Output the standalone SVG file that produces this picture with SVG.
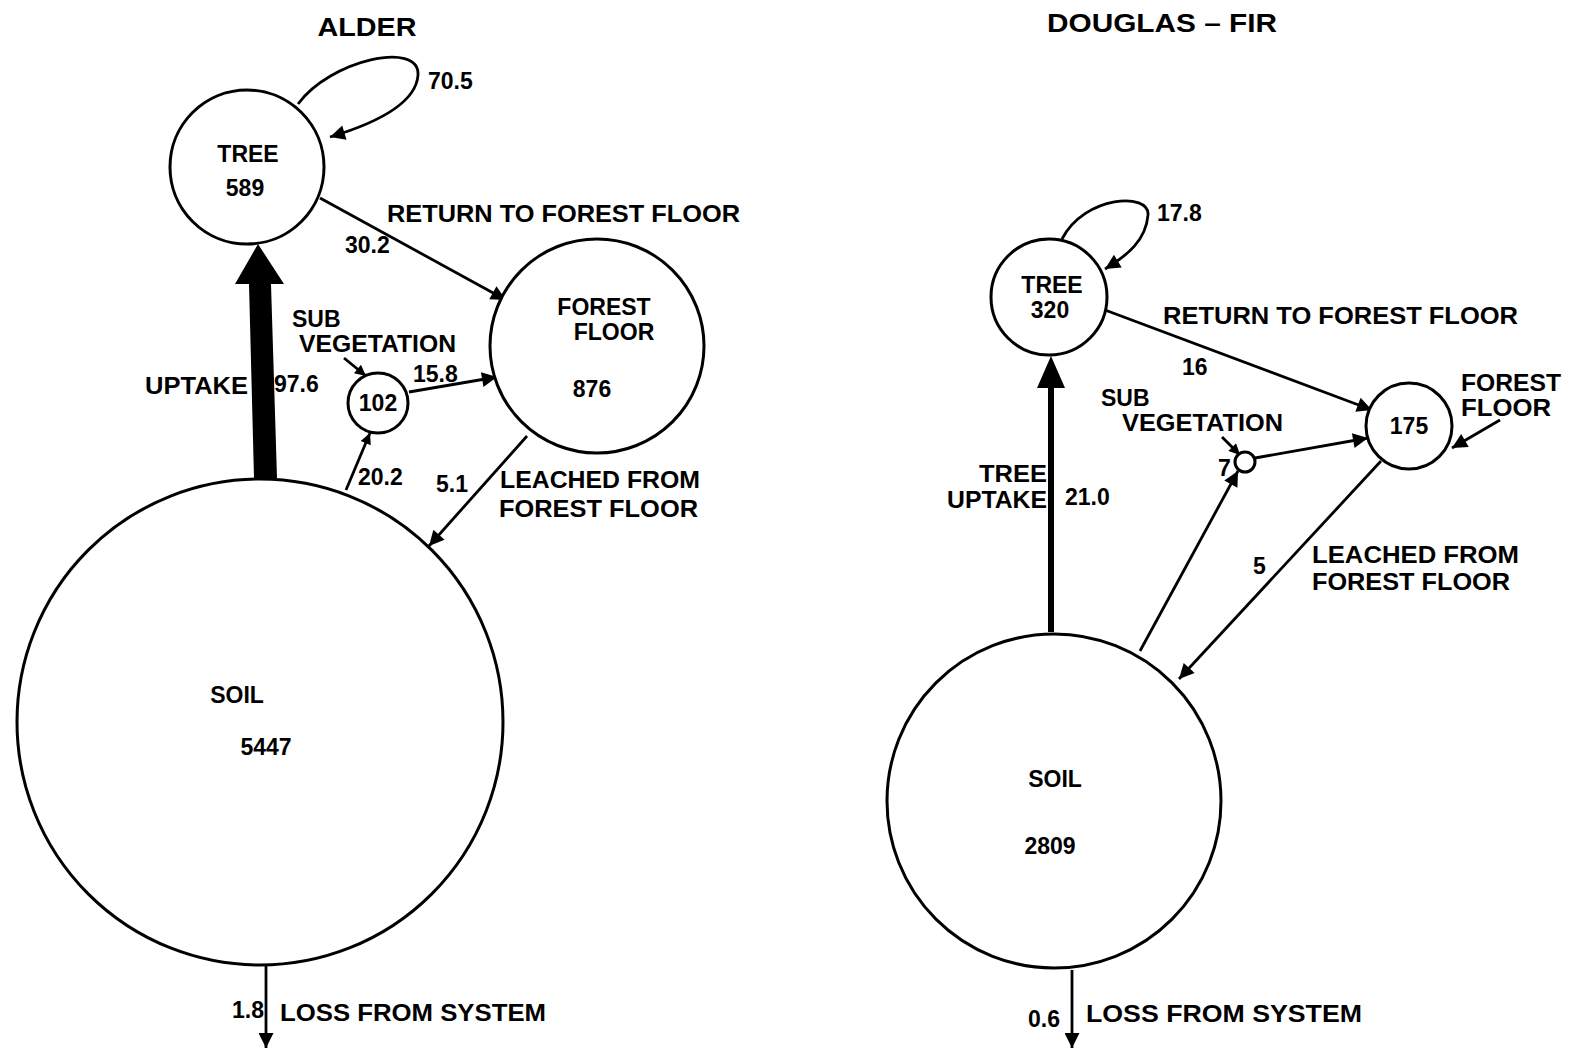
<svg xmlns="http://www.w3.org/2000/svg" width="1572" height="1051" viewBox="0 0 1572 1051">
<style>
text{font-family:"Liberation Sans",Arial,sans-serif;font-weight:bold;font-size:23px;fill:#000}
.title{font-size:25px}
.node{fill:#fff;stroke:#000;stroke-width:3}
.edge{fill:none;stroke:#000;stroke-width:2.8}
.c{text-anchor:middle}
</style>
<defs>
<marker id="ah" viewBox="0 0 10 10" refX="10" refY="5" markerUnits="userSpaceOnUse" markerWidth="20" markerHeight="15" orient="auto">
<path d="M0,0 L10,5 L0,10 z" fill="#000"/>
</marker>
<marker id="ahs" viewBox="0 0 10 10" refX="10" refY="5" markerUnits="userSpaceOnUse" markerWidth="13" markerHeight="11" orient="auto">
<path d="M0,0 L10,5 L0,10 z" fill="#000"/>
</marker>
</defs>
<rect width="1572" height="1051" fill="#fff"/>

<text class="title c" x="367" y="36" textLength="99" lengthAdjust="spacingAndGlyphs">ALDER</text>
<text class="title c" x="1162" y="32" textLength="230" lengthAdjust="spacingAndGlyphs">DOUGLAS – FIR</text>

<g id="connectors">
  <!-- Alder -->
  <path class="edge" d="M298,104 C330,60 420,40 418,75 C416,105 370,125 330,137" marker-end="url(#ah)"/>
  <line class="edge" x1="320" y1="198" x2="506" y2="300" marker-end="url(#ah)"/>
  <line class="edge" x1="409" y1="392" x2="497" y2="377" marker-end="url(#ah)"/>
  <line class="edge" x1="346" y1="490" x2="370" y2="433" marker-end="url(#ahs)"/>
  <line class="edge" x1="527" y1="436" x2="429" y2="546" marker-end="url(#ah)"/>
  <line class="edge" x1="344" y1="358" x2="366" y2="376" marker-end="url(#ahs)"/>
  <line class="edge" x1="266" y1="965" x2="266" y2="1048" marker-end="url(#ah)"/>
  <polygon points="254,478 277,478 271,284 284,284 258,244 235,284 249,284" fill="#000"/>
  <!-- Douglas-fir -->
  <path class="edge" d="M1062,239 C1085,195 1150,192 1148,215 C1146,240 1128,255 1105,269" marker-end="url(#ah)"/>
  <line class="edge" x1="1105" y1="310" x2="1372" y2="410" marker-end="url(#ah)"/>
  <line class="edge" x1="1255" y1="458" x2="1368" y2="438" marker-end="url(#ah)"/>
  <line class="edge" x1="1140" y1="651" x2="1238" y2="471" marker-end="url(#ah)"/>
  <line class="edge" x1="1381" y1="461" x2="1179" y2="679" marker-end="url(#ah)"/>
  <line class="edge" x1="1222" y1="437" x2="1240" y2="455" marker-end="url(#ahs)"/>
  <line class="edge" x1="1500" y1="420" x2="1452" y2="448" marker-end="url(#ah)"/>
  <line class="edge" x1="1072" y1="970" x2="1072" y2="1048" marker-end="url(#ah)"/>
  <line x1="1051" y1="632" x2="1051" y2="384" stroke="#000" stroke-width="6"/>
  <polygon points="1051,356 1065,388 1037,388" fill="#000"/>
</g>

<g id="alder-tree">
  <circle class="node" cx="247" cy="167" r="77"/>
  <text class="c" x="248" y="162">TREE</text>
  <text class="c" x="245" y="196">589</text>
</g>
<g id="alder-forest-floor">
  <circle class="node" cx="597" cy="346" r="107"/>
  <text class="c" x="604" y="315">FOREST</text>
  <text class="c" x="614" y="340">FLOOR</text>
  <text class="c" x="592" y="397">876</text>
</g>
<g id="alder-sub-vegetation">
  <circle class="node" cx="378" cy="403" r="30"/>
  <text class="c" x="378" y="411">102</text>
</g>
<g id="alder-soil">
  <circle class="node" cx="260" cy="722" r="243"/>
  <text class="c" x="237" y="703">SOIL</text>
  <text class="c" x="266" y="755">5447</text>
</g>
<g id="alder-labels">
  <text x="428" y="89">70.5</text>
  <text x="387" y="222" textLength="353" lengthAdjust="spacingAndGlyphs">RETURN TO FOREST FLOOR</text>
  <text x="345" y="253">30.2</text>
  <text x="292" y="327">SUB</text>
  <text x="299" y="352" textLength="157" lengthAdjust="spacingAndGlyphs">VEGETATION</text>
  <text x="145" y="394" textLength="103" lengthAdjust="spacingAndGlyphs">UPTAKE</text>
  <text x="274" y="392">97.6</text>
  <text x="413" y="382">15.8</text>
  <text x="358" y="485">20.2</text>
  <text x="436" y="492">5.1</text>
  <text x="500" y="488" textLength="200" lengthAdjust="spacingAndGlyphs">LEACHED FROM</text>
  <text x="499" y="517" textLength="199" lengthAdjust="spacingAndGlyphs">FOREST FLOOR</text>
  <text x="232" y="1018">1.8</text>
  <text x="280" y="1021" textLength="266" lengthAdjust="spacingAndGlyphs">LOSS FROM SYSTEM</text>
</g>

<g id="df-tree">
  <circle class="node" cx="1049" cy="297" r="58"/>
  <text class="c" x="1052" y="293">TREE</text>
  <text class="c" x="1050" y="318">320</text>
</g>
<g id="df-forest-floor">
  <circle class="node" cx="1409" cy="426" r="43"/>
  <text class="c" x="1409" y="434">175</text>
</g>
<g id="df-sub-vegetation">
  <circle class="node" cx="1245" cy="462" r="10"/>
</g>
<g id="df-soil">
  <circle class="node" cx="1054" cy="801" r="167"/>
  <text class="c" x="1055" y="787">SOIL</text>
  <text class="c" x="1050" y="854">2809</text>
</g>
<g id="df-labels">
  <text x="1157" y="221">17.8</text>
  <text x="1163" y="324" textLength="355" lengthAdjust="spacingAndGlyphs">RETURN TO FOREST FLOOR</text>
  <text x="1182" y="375">16</text>
  <text x="1101" y="406">SUB</text>
  <text x="1122" y="431" textLength="161" lengthAdjust="spacingAndGlyphs">VEGETATION</text>
  <text x="1218" y="476">7</text>
  <text x="1461" y="391" textLength="100" lengthAdjust="spacingAndGlyphs">FOREST</text>
  <text x="1461" y="416" textLength="90" lengthAdjust="spacingAndGlyphs">FLOOR</text>
  <text x="979" y="482" textLength="68" lengthAdjust="spacingAndGlyphs">TREE</text>
  <text x="947" y="508" textLength="100" lengthAdjust="spacingAndGlyphs">UPTAKE</text>
  <text x="1065" y="505">21.0</text>
  <text x="1253" y="574">5</text>
  <text x="1312" y="563" textLength="207" lengthAdjust="spacingAndGlyphs">LEACHED FROM</text>
  <text x="1312" y="590" textLength="198" lengthAdjust="spacingAndGlyphs">FOREST FLOOR</text>
  <text x="1028" y="1027">0.6</text>
  <text x="1086" y="1022" textLength="276" lengthAdjust="spacingAndGlyphs">LOSS FROM SYSTEM</text>
</g>
</svg>
